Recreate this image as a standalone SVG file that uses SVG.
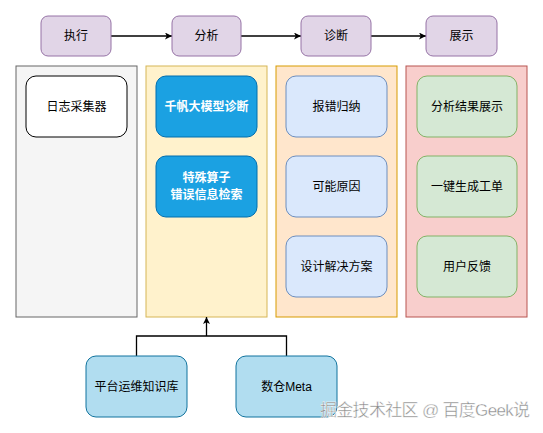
<svg xmlns="http://www.w3.org/2000/svg" width="543" height="433" viewBox="0 0 543 433">
<defs>
<marker id="arr" viewBox="0 0 10 10" refX="10" refY="5" markerWidth="7" markerHeight="7" markerUnits="userSpaceOnUse" orient="auto">
<path d="M0,0 L10,5 L0,10 L2.5,5 Z" fill="#000"/>
</marker>
<style>
text{font-family:"Liberation Sans","Noto Sans CJK SC",sans-serif;font-size:12px;text-anchor:middle;dominant-baseline:central;fill:#000}
.stage{fill:#e1d5e7;stroke:#9673a6;stroke-width:1}
.lane{stroke-width:1}
.w{fill:#fff;stroke:#000}
.blue{fill:#1ba1e2;stroke:#006eaf}
.blue+text,.wt{fill:#fff;font-weight:bold}
.lb{fill:#dae8fc;stroke:#6c8ebf}
.gr{fill:#d5e8d4;stroke:#82b366}
.kb{fill:#b1ddf0;stroke:#10739e}
.edge{fill:none;stroke:#000;stroke-width:1.3}
</style>
</defs>
<rect width="543" height="433" fill="#fff"/>

<g id="lane-exec"><rect class="lane" x="16" y="66" width="121" height="251" fill="#f5f5f5" stroke="#666"/></g>
<g id="lane-analyze"><rect class="lane" x="146" y="66" width="121" height="251" fill="#fff2cc" stroke="#d6b656"/></g>
<g id="lane-diag"><rect class="lane" x="276" y="66" width="121" height="251" fill="#ffe6cc" stroke="#d79b00"/></g>
<g id="lane-show"><rect class="lane" x="406" y="66" width="121" height="251" fill="#f8cecc" stroke="#b85450"/></g>

<g id="connectors">
<line class="edge" x1="111" y1="36" x2="172" y2="36" marker-end="url(#arr)"/>
<line class="edge" x1="241" y1="36" x2="301" y2="36" marker-end="url(#arr)"/>
<line class="edge" x1="371" y1="36" x2="426" y2="36" marker-end="url(#arr)"/>
<path class="edge" d="M136.5,356 V336 H286.5 V356"/>
<line class="edge" x1="206.5" y1="336" x2="206.5" y2="317" marker-end="url(#arr)"/>
</g>

<g id="stage-exec"><rect class="stage" x="41" y="16" width="70" height="40" rx="7"/><text x="76" y="36">执行</text></g>
<g id="stage-analyze"><rect class="stage" x="172" y="16" width="69" height="40" rx="7"/><text x="206.5" y="36">分析</text></g>
<g id="stage-diag"><rect class="stage" x="301" y="16" width="70" height="40" rx="7"/><text x="336" y="36">诊断</text></g>
<g id="stage-show"><rect class="stage" x="426" y="16" width="71" height="40" rx="7"/><text x="461.5" y="36">展示</text></g>

<g id="n-collector"><rect class="w" x="26" y="76" width="101" height="61" rx="10"/><text x="76.5" y="106.5">日志采集器</text></g>

<g id="n-qianfan"><rect class="blue" x="156" y="76" width="101" height="61" rx="10"/><text class="wt" x="206.5" y="106.5">千帆大模型诊断</text></g>
<g id="n-operator"><rect class="blue" x="156" y="156" width="101" height="61" rx="10"/><text class="wt" x="206.5" y="178">特殊算子</text><text class="wt" x="206.5" y="195">错误信息检索</text></g>

<g id="n-summary"><rect class="lb" x="286" y="76" width="101" height="61" rx="10"/><text x="336.5" y="106.5">报错归纳</text></g>
<g id="n-cause"><rect class="lb" x="286" y="156" width="101" height="61" rx="10"/><text x="336.5" y="186.5">可能原因</text></g>
<g id="n-solution"><rect class="lb" x="286" y="236" width="101" height="61" rx="10"/><text x="336.5" y="266.5">设计解决方案</text></g>

<g id="n-result"><rect class="gr" x="417" y="76" width="100" height="61" rx="10"/><text x="467" y="106.5">分析结果展示</text></g>
<g id="n-ticket"><rect class="gr" x="417" y="156" width="100" height="61" rx="10"/><text x="467" y="186.5">一键生成工单</text></g>
<g id="n-feedback"><rect class="gr" x="417" y="236" width="100" height="61" rx="10"/><text x="467" y="266.5">用户反馈</text></g>

<g id="n-kb"><rect class="kb" x="86" y="356" width="101" height="61" rx="10"/><text x="136.5" y="386.5">平台运维知识库</text></g>
<g id="n-meta"><rect class="kb" x="236" y="356" width="101" height="61" rx="10"/><text x="286.5" y="386.5">数仓Meta</text></g>

<text x="425" y="410" style="font-size:17px;fill:#8a8a8a;stroke:#fff;stroke-width:0.4" textLength="210">掘金技术社区 @ 百度Geek说</text>
</svg>
